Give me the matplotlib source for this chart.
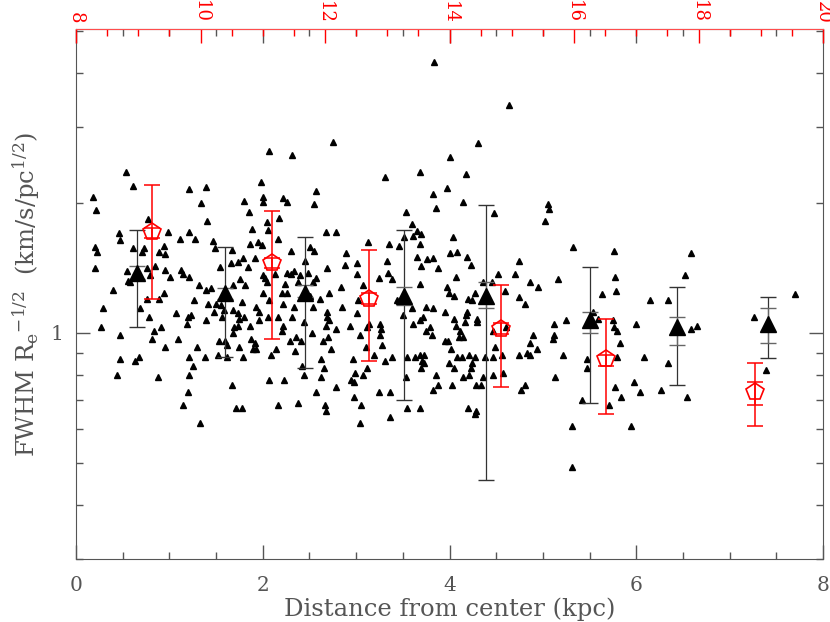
import numpy as np
import matplotlib
matplotlib.use("Agg")
from matplotlib import pyplot as plt
from matplotlib.ticker import MultipleLocator, LogLocator, NullFormatter

# individual clusters: distance (kpc) and FWHM Re^-1/2
dist = [
    0.54, 0.61, 0.18, 0.21, 1.21, 1.39, 1.34, 1.40, 1.98, 1.80,
    2.00, 2.00, 1.85, 1.88, 0.77, 0.46, 0.47, 0.99, 1.11, 1.21,
    1.27, 1.47, 1.49, 1.67, 1.95, 1.99, 1.86, 1.92, 1.79, 1.66,
    1.73, 1.84, 1.54, 0.20, 0.22, 0.20, 0.61, 0.71, 0.73, 0.89,
    0.95, 0.94, 0.85, 0.76, 0.55, 0.95, 1.01, 1.12, 1.15, 1.21,
    0.79, 0.56, 0.58, 0.40, 0.29, 0.27, 0.47, 0.69, 0.78, 0.84,
    0.91, 0.81, 0.94, 0.89, 0.76, 1.32, 1.39, 1.45, 1.26, 1.07,
    1.20, 1.23, 1.19, 1.39, 1.09, 0.95, 1.30, 1.21, 1.25, 1.38,
    1.21, 0.47, 0.67, 0.63, 0.44, 0.88, 1.20, 1.15, 1.33, 1.67,
    1.71, 1.78, 1.50, 1.55, 1.58, 1.56, 1.48, 1.41, 1.68, 1.73,
    1.75, 1.73, 1.69, 1.80, 1.78, 1.68, 1.76, 1.81, 1.86, 1.93,
    1.96, 1.96, 2.00, 1.68, 1.53, 1.60, 1.62, 1.52, 1.62, 1.75,
    1.79, 1.87, 1.92, 1.90, 1.93,
    2.75, 2.07, 2.31, 3.31, 2.57, 2.22, 2.26, 2.55, 3.53, 2.17,
    2.05, 2.06, 3.60, 3.65, 3.61, 3.51, 2.68, 2.78, 2.16, 3.13,
    3.35, 3.46, 2.51, 2.55, 2.30, 2.89, 3.65, 3.33, 3.01, 2.88,
    2.45, 2.69, 2.13, 2.00, 2.02, 2.05, 2.26, 2.30, 2.33, 2.40,
    2.48, 2.57, 2.54, 3.34, 3.01, 3.25, 3.38, 2.24, 2.38, 2.84,
    3.07, 2.21, 2.26, 2.71, 2.61, 2.51, 2.07, 2.22, 3.02, 3.44,
    2.33, 2.54, 2.85, 2.69, 2.69, 2.71, 2.68, 2.06, 2.16, 2.31,
    2.22, 2.21, 2.44, 2.36, 2.29, 2.41, 2.53, 2.65, 2.70, 2.78,
    2.93, 3.01, 3.14, 3.12, 3.26, 3.27, 3.26, 3.04, 3.28, 2.73,
    2.35, 2.14, 2.09, 3.11, 3.19, 3.38, 2.62, 2.97, 3.31, 2.42,
    2.66, 3.12, 2.44, 2.07, 2.23, 2.62, 2.99, 3.07, 2.95, 2.98,
    2.78, 2.57, 3.25, 3.36, 2.98, 2.16, 2.38, 2.67, 2.68, 3.05,
    3.54, 3.36, 3.04, 3.50, 3.60, 3.61, 3.54, 3.63, 3.53,
    3.83, 4.64, 4.31, 4.01, 4.18, 3.68, 3.82, 3.97, 4.14, 3.86,
    4.48, 5.05, 5.07, 5.02, 3.69, 3.68, 4.04, 4.01, 4.08, 3.82,
    3.76, 4.19, 4.23, 3.69, 3.88, 4.07, 4.74, 5.32, 4.52, 4.70,
    5.16, 4.86, 4.95, 3.97, 3.99, 4.05, 3.68, 4.36, 4.46, 4.59,
    4.20, 4.24, 4.27, 4.74, 4.81, 3.75, 3.82, 3.72, 3.68, 3.79,
    3.75, 3.81, 3.95, 4.05, 4.07, 4.19, 4.18, 4.17, 4.29, 4.29,
    4.11, 4.10, 4.14, 3.95, 3.98, 4.02, 3.68, 3.73, 3.71, 3.73,
    3.69, 4.08, 4.13, 4.21, 4.27, 4.24, 4.23, 3.99, 4.05, 4.38,
    4.47, 4.47, 4.61, 4.49, 4.56, 4.47, 4.57, 4.14, 4.21, 4.36,
    3.86, 3.88, 3.82, 4.03, 4.28, 4.34, 4.20, 4.28, 4.27, 3.68,
    4.74, 4.83, 4.86, 4.94, 4.89, 4.86, 5.12, 5.25, 5.12, 5.11,
    5.22, 5.13, 4.81, 4.77, 5.47, 5.47, 5.42, 5.31, 5.54,
    5.63, 5.76, 5.77, 5.78, 6.15, 6.34, 6.52, 6.59, 7.70, 7.26,
    7.39, 6.65, 6.59, 6.34, 6.08, 6.00, 5.98, 6.04, 6.27, 6.54,
    5.94, 5.75, 5.76, 5.79, 5.83, 5.79, 5.77, 5.84, 5.71, 5.59,
    5.31,
]
fwhm = [
    2.36, 2.19, 2.06, 1.93, 2.15, 2.18, 2.00, 1.82, 2.24, 2.02,
    2.06, 2.01, 1.91, 1.74, 1.84, 1.70, 1.64, 1.71, 1.65, 1.71,
    1.65, 1.63, 1.57, 1.56, 1.62, 1.60, 1.61, 1.49, 1.49, 1.45,
    1.46, 1.42, 1.42, 1.58, 1.54, 1.41, 1.57, 1.54, 1.57, 1.54,
    1.52, 1.59, 1.43, 1.41, 1.39, 1.40, 1.35, 1.40, 1.37, 1.35,
    1.36, 1.32, 1.31, 1.26, 1.14, 1.03, 0.99, 1.14, 1.09, 1.01,
    1.03, 0.97, 1.24, 1.20, 1.20, 1.29, 1.26, 1.27, 1.19, 1.11,
    1.09, 1.10, 1.05, 1.07, 0.97, 0.93, 0.93, 0.88, 0.84, 0.88,
    0.80, 0.87, 0.88, 0.86, 0.80, 0.79, 0.73, 0.68, 0.62, 0.76,
    0.67, 0.67, 1.17, 1.16, 1.13, 1.09, 1.12, 1.17, 1.13, 1.11,
    1.08, 1.04, 1.03, 1.09, 1.18, 1.29, 1.33, 1.29, 1.04, 1.15,
    1.12, 1.07, 1.24, 1.00, 0.96, 0.96, 0.94, 0.89, 0.88, 0.93,
    0.88, 0.97, 0.95, 0.92, 0.92,
    2.77, 2.63, 2.58, 2.29, 2.13, 2.05, 2.01, 1.99, 1.91, 1.85,
    1.81, 1.73, 1.79, 1.72, 1.68, 1.67, 1.71, 1.71, 1.65, 1.62,
    1.61, 1.59, 1.58, 1.55, 1.55, 1.53, 1.50, 1.47, 1.45, 1.44,
    1.47, 1.41, 1.37, 1.36, 1.34, 1.31, 1.38, 1.37, 1.39, 1.36,
    1.38, 1.34, 1.31, 1.38, 1.37, 1.34, 1.33, 1.30, 1.31, 1.28,
    1.29, 1.24, 1.24, 1.24, 1.20, 1.22, 1.19, 1.17, 1.19, 1.19,
    1.15, 1.15, 1.15, 1.12, 1.09, 1.07, 1.04, 1.09, 1.09, 1.09,
    1.04, 1.01, 1.06, 0.98, 0.96, 0.96, 1.00, 0.96, 0.98, 1.02,
    1.04, 1.11, 1.05, 1.03, 1.05, 1.02, 0.99, 0.99, 0.94, 0.92,
    0.91, 0.92, 0.89, 0.93, 0.89, 0.88, 0.87, 0.87, 0.86, 0.84,
    0.83, 0.83, 0.80, 0.78, 0.78, 0.79, 0.81, 0.80, 0.78, 0.77,
    0.75, 0.73, 0.73, 0.73, 0.71, 0.68, 0.69, 0.68, 0.66, 0.68,
    0.67, 0.64, 0.62, 1.10, 1.14, 1.05, 0.88, 0.88, 0.79,
    4.24, 3.37, 2.75, 2.56, 2.33, 2.36, 2.10, 2.17, 2.01, 1.95,
    1.90, 1.99, 1.94, 1.82, 1.69, 1.61, 1.67, 1.53, 1.54, 1.49,
    1.48, 1.50, 1.44, 1.43, 1.41, 1.35, 1.47, 1.58, 1.37, 1.37,
    1.33, 1.31, 1.28, 1.28, 1.24, 1.22, 1.30, 1.31, 1.31, 1.25,
    1.20, 1.19, 1.24, 1.21, 1.17, 1.15, 1.14, 1.09, 1.07, 1.03,
    1.01, 0.99, 1.12, 1.08, 1.04, 1.12, 1.10, 1.06, 1.08, 1.06,
    1.01, 0.98, 0.98, 0.96, 0.96, 0.92, 0.89, 0.89, 0.86, 0.85,
    0.83, 0.88, 0.88, 0.89, 0.88, 0.85, 0.83, 0.85, 0.83, 0.88,
    0.88, 1.01, 1.03, 0.93, 0.89, 0.80, 0.81, 0.79, 0.80, 0.79,
    0.80, 0.76, 0.74, 0.76, 0.76, 0.76, 0.67, 0.66, 0.65, 0.67,
    0.89, 0.90, 0.95, 0.92, 0.99, 0.89, 1.05, 1.07, 0.99, 0.97,
    0.89, 0.79, 0.76, 0.74, 0.87, 0.83, 0.70, 0.61, 1.12,
    1.23, 1.55, 1.35, 1.25, 1.19, 1.19, 1.36, 1.53, 1.23, 1.09,
    0.82, 1.04, 1.02, 0.85, 0.88, 1.05, 0.77, 0.73, 0.74, 0.71,
    0.61, 1.07, 1.03, 1.01, 0.95, 0.88, 0.75, 0.71, 0.68, 1.08,
    0.49,
]

# binned means (black, bottom axis)
bin_r = np.array([0.65, 1.60, 2.45, 3.51, 4.39, 5.50, 6.44, 7.41])
bin_f = np.array([1.38, 1.24, 1.24, 1.22, 1.22, 1.07, 1.03, 1.05])
bin_lo = np.array([1.03, 0.88, 0.83, 0.70, 0.457, 0.69, 0.76, 0.875])
bin_hi = np.array([1.73, 1.58, 1.67, 1.73, 1.98, 1.42, 1.28, 1.21])
bin_lo_in = np.array([1.33, 1.20, 1.21, 1.16, 1.14, 1.00, 0.94, 0.95])
bin_hi_in = np.array([1.43, 1.27, 1.29, 1.28, 1.31, 1.12, 1.09, 1.14])

# binned means (red, top axis)
red_r = np.array([9.22, 11.15, 12.71, 14.83, 16.51, 18.91])
red_f = np.array([1.71, 1.45, 1.20, 1.02, 0.87, 0.73])
red_lo = np.array([1.20, 0.97, 0.86, 0.75, 0.65, 0.61])
red_hi = np.array([2.20, 1.92, 1.56, 1.29, 1.08, 0.85])
red_lo_in = np.array([1.66, 1.41, 1.17, 0.995, 0.84, 0.68])
red_hi_in = np.array([1.75, 1.49, 1.24, 1.055, 0.89, 0.77])

plt.rcParams['font.family'] = 'DejaVu Serif'
plt.rcParams['mathtext.fontset'] = 'dejavuserif'
grey = '#555555'

fig = plt.figure(figsize=(8.3, 6.22), dpi=100)
ax = fig.add_axes([76 / 830, 63 / 622, 747 / 830, 530 / 622])

ax.plot(dist, fwhm, '^', color='k', ms=4.5, ls='none')
ax.errorbar(bin_r, bin_f, yerr=[bin_f - bin_lo, bin_hi - bin_f], fmt='none',
            ecolor='#333333', elinewidth=0.9, capsize=6, capthick=1.0)
ax.errorbar(bin_r, bin_f, yerr=[bin_f - bin_lo_in, bin_hi_in - bin_f], fmt='none',
            ecolor='#666666', elinewidth=0.9, capsize=6, capthick=1.0)
ax.plot(bin_r, bin_f, '^', color='k', ms=11, ls='none')

ax.set_xlim(0, 8)
ax.set_yscale('log')
ax.set_ylim(0.3, 5.05)

ax2 = ax.twiny()
ax2.errorbar(red_r, red_f, yerr=[red_f - red_lo, red_hi - red_f], fmt='none',
             ecolor='red', elinewidth=1.1, capsize=6, capthick=1.1)
ax2.errorbar(red_r, red_f, yerr=[red_f - red_lo_in, red_hi_in - red_f], fmt='none',
             ecolor='red', elinewidth=1.1, capsize=6, capthick=1.1)
ax2.plot(red_r, red_f, 'p', ms=13, mfc='none', mec='red', mew=1.2, ls='none')
ax2.set_xlim(8, 20)

# bottom / left axis
ax.xaxis.set_major_locator(MultipleLocator(2))
ax.xaxis.set_minor_locator(MultipleLocator(0.5))
ax.set_yticks([1])
ax.set_yticklabels(['1'])
ax.yaxis.set_minor_locator(LogLocator(base=10, subs=np.arange(2, 10)))
ax.yaxis.set_minor_formatter(NullFormatter())
ax.tick_params(which='both', direction='in', top=True, right=True,
               color=grey, labelcolor=grey, labelsize=14.5, width=1)
ax.tick_params(which='major', length=10)
ax.tick_params(axis='x', which='major', pad=12)
ax.tick_params(axis='y', which='major', pad=9)
ax.tick_params(which='minor', length=5)
for s in ax.spines.values():
    s.set_color(grey)

# top axis in red
ax2.xaxis.set_major_locator(MultipleLocator(2))
ax2.xaxis.set_minor_locator(MultipleLocator(0.5))
ax2.tick_params(axis='x', which='both', direction='in', color='red',
                labelcolor='red', labelsize=13, labelrotation=-90, width=1)
ax2.tick_params(axis='x', which='major', length=10, pad=4)
ax2.tick_params(axis='x', which='minor', length=5)
for k in ['bottom', 'left', 'right']:
    ax2.spines[k].set_visible(False)
ax2.spines['top'].set_color('#ff4d4d')

ax.set_xlabel('Distance from center (kpc)', fontsize=17.5, color=grey, labelpad=2)
ax.set_ylabel(r'FWHM R$_{\rm e}$$^{-1/2}$  (km/s/pc$^{1/2}$)', fontsize=17.5,
              color=grey, labelpad=6)

fig.savefig('out.png', dpi=100)
